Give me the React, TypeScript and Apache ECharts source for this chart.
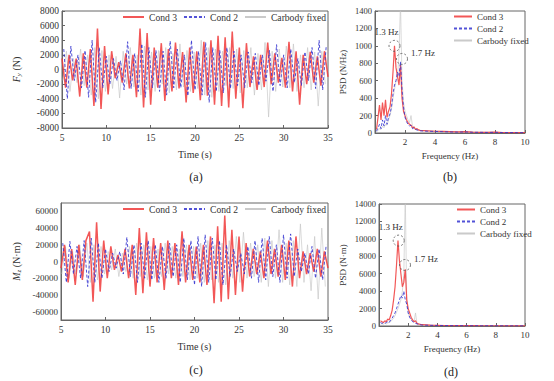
import React, { useEffect, useRef } from 'react';
import * as echarts from 'echarts';

const FONT = '"Liberation Serif", "Times New Roman", serif';
const TXT = '#333';
const RED = '#f03a3a';
const BLUE = '#3434d0';
const GREY = '#c4c4c4';

// ---- Time-series sampling (s) ----
const T_START = 5;
const T_STEP = 0.4;
const OFFSET_COND3 = 0;
const OFFSET_COND2 = 0.2;
const OFFSET_FIXED = 0.1;

// ---- (a) Fy (N) ----
const fyCond3 = [1500, -2500, 2000, -1500, 1500, -3700, 2200, -2500, 2800, -5000, 5600, -5400, 3200, -3400, 2500, -1200, 1000, -1800, 2200, -2600, 2000, -3800, 5600, -5200, 5000, -4800, 3000, -2500, 3600, -4300, 2800, -3000, 3700, -2600, 2400, -4500, 3000, -3200, 2500, -4200, 3800, -3600, 4000, -4800, 4600, -5000, 4400, -5200, 5200, -4000, 3000, -5300, 3600, -2400, 1800, -2800, 2000, -2400, 3700, -2000, 2200, -1800, 1600, -2500, 3800, -3000, 2500, -4800, 2000, -2000, 2400, -1800, 1800, -2200, 2500, -1000];
const fyCond2 = [2800, -4000, 3200, -1500, 2000, -2500, 2600, -3800, 4000, -4500, 3000, -2500, 1800, -2000, 1500, -1500, 1200, -2800, 3800, -2600, 2200, -3000, 3500, -3800, 3000, -2500, 2600, -3000, 2500, -3500, 3900, -2500, 2800, -2500, 2000, -3600, 4000, -2800, 2500, -3500, 3700, -4500, 3000, -3000, 2600, -3200, 3000, -2600, 2500, -2200, 2000, -2500, 2400, -1800, 2200, -2200, 2000, -1600, 2600, -3000, 3400, -2200, 2000, -2500, 2800, -1800, 1500, -2200, 2400, -1500, 3000, -2600, 4000, -2800, 3200];
const fyFixed = [-1500, 2500, -3000, 1500, -1800, 2800, -2200, 2000, -3500, 3000, -4000, 2600, -3000, 2000, -2600, 1800, -3900, 2500, -2000, 3000, -2400, 2000, -3500, 3200, -2800, 2400, -3000, 2600, -2000, 3000, -3200, 2200, -2800, 3500, -2400, 2600, -3000, 2400, -2600, 4000, -3500, 3000, -3800, 2800, -3000, 2500, -2200, 3000, -2600, 2800, -3200, 2600, -2500, 3000, -3500, 2200, -2800, 3700, -6500, 2500, -3000, 2800, -2400, 3200, -2500, 3500, -3000, 2000, -2500, 3000, -2800, 2400, -5000, 2500, -2000];

// ---- (c) Mz (N·m) ----
const mzCond3 = [-8000, 20000, -25000, 15000, -28000, 20000, -22000, 25000, 36000, -48000, 47000, -36000, 25000, -20000, 18000, -10000, 8000, -12000, 15000, -20000, 20000, -40000, 40000, -38000, 35000, -30000, 28000, -25000, 22000, -34000, 25000, -20000, 22000, -28000, 36000, -25000, 20000, -22000, 18000, -25000, 20000, -28000, 30000, -50000, 42000, -48000, 55000, -45000, 38000, -40000, 30000, -36000, 22000, -18000, 15000, -15000, 12000, -20000, 25000, -15000, 15000, -18000, 20000, -22000, 25000, -30000, 30000, -20000, 12000, -15000, 10000, -12000, 15000, -18000, 12000, -8000];
const mzCond2 = [22000, -25000, 24000, -15000, 18000, -20000, 25000, -30000, 28000, -25000, 22000, -20000, 15000, -12000, 10000, -8000, 12000, -15000, 29000, -18000, 20000, -25000, 22000, -20000, 25000, -22000, 20000, -25000, 18000, -20000, 22000, -18000, 20000, -25000, 28000, -22000, 25000, -28000, 30000, -30000, 32000, -25000, 28000, -22000, 25000, -28000, 20000, -18000, 15000, -12000, 10000, -15000, 18000, -20000, 25000, -25000, 28000, -22000, 30000, -18000, 20000, -25000, 32000, -20000, 33000, -18000, 15000, -12000, 10000, -15000, 18000, -20000, 15000, -22000, 20000];
const mzFixed = [-15000, 18000, -20000, 12000, -15000, 20000, -18000, 22000, -25000, 20000, -22000, 18000, -15000, 12000, -10000, 15000, -18000, 10000, -12000, 18000, -20000, 22000, -18000, 20000, -22000, 18000, -20000, 15000, -18000, 22000, -15000, 18000, -20000, 15000, -18000, 20000, -22000, 18000, -20000, 22000, -25000, 25000, -22000, 20000, -25000, 22000, -28000, 25000, -20000, 30000, -25000, 35000, -20000, 22000, -18000, 20000, -25000, 28000, -30000, 25000, -20000, 38000, -25000, 22000, -28000, 25000, -30000, 45000, -25000, 20000, -35000, 30000, -45000, 40000, -30000];

// ---- PSD frequencies (Hz) ----
const freq = [0.1, 0.2, 0.3, 0.4, 0.5, 0.6, 0.7, 0.8, 0.9, 1.0, 1.1, 1.2, 1.3, 1.4, 1.5, 1.6, 1.7, 1.8, 1.9, 2.0, 2.1, 2.2, 2.3, 2.4, 2.5, 2.6, 2.7, 2.8, 2.9, 3.0, 3.5, 4, 4.5, 5, 5.5, 6, 6.5, 7, 7.5, 8, 8.5, 9, 9.5, 10];

// ---- (b) PSD of Fy ----
const psdFyCond3 = [40, 180, 320, 150, 350, 200, 380, 180, 250, 300, 450, 700, 1000, 750, 650, 550, 780, 400, 250, 200, 150, 120, 100, 90, 60, 70, 40, 50, 35, 30, 25, 20, 18, 15, 12, 15, 10, 8, 8, 10, 6, 5, 5, 4];
const psdFyCond2 = [20, 60, 100, 50, 150, 80, 200, 100, 180, 220, 300, 450, 550, 600, 700, 650, 820, 500, 300, 180, 130, 100, 80, 90, 50, 60, 40, 35, 30, 25, 20, 18, 15, 12, 10, 12, 8, 8, 6, 8, 5, 5, 4, 4];
const psdFyFixed = [10, 30, 50, 40, 80, 60, 100, 90, 150, 200, 280, 400, 500, 600, 650, 900, 1500, 600, 350, 250, 200, 150, 120, 200, 80, 60, 50, 40, 35, 30, 25, 20, 18, 15, 12, 12, 10, 8, 8, 8, 6, 5, 5, 4];

// ---- (d) PSD of Mz ----
const psdMzCond3 = [600, 500, 400, 600, 500, 800, 700, 1200, 1800, 3000, 4500, 7000, 9800, 7500, 6000, 4500, 5000, 6500, 3000, 2000, 1500, 1000, 700, 500, 600, 300, 250, 200, 150, 150, 100, 80, 60, 50, 50, 40, 50, 30, 30, 30, 25, 20, 20, 15];
const psdMzCond2 = [400, 300, 350, 300, 400, 500, 400, 700, 900, 1200, 1500, 2000, 2500, 3000, 3500, 3200, 4000, 3000, 2500, 1500, 1000, 700, 500, 400, 300, 250, 200, 150, 120, 100, 80, 60, 50, 40, 40, 30, 30, 25, 25, 20, 20, 15, 15, 10];
const psdMzFixed = [200, 250, 200, 300, 250, 350, 400, 500, 700, 900, 1200, 1600, 2000, 2500, 3000, 4000, 6000, 15000, 3000, 1500, 1000, 800, 600, 500, 1500, 300, 200, 150, 120, 100, 80, 60, 50, 40, 40, 30, 30, 25, 25, 20, 20, 15, 15, 10];

// ---- Peak annotations ----
const peakFy = [
  { name: '1.3 Hz', coord: [1.3, 1000] },
  { name: '1.7 Hz', coord: [1.8, 850] },
];
const peakMz = [
  { name: '1.3 Hz', coord: [1.35, 9800] },
  { name: '1.7 Hz', coord: [1.78, 7000] },
];

const NAMES = ['Cond 3', 'Cond 2', 'Carbody fixed'];

function timePairs(vals: number[], offset: number) {
  return vals.map((v, i) => [T_START + offset + i * T_STEP, v]);
}
function freqPairs(vals: number[]) {
  return vals.map((v, i) => [freq[i], v]);
}

const lineStyles = [
  { color: RED, width: 1.5, type: 'solid' as const, opacity: 0.85 },
  { color: BLUE, width: 1, type: [3, 2], opacity: 0.85 },
  { color: GREY, width: 0.7, type: 'solid' as const, opacity: 0.9 },
];

function mkSeries(idx: number, data: number[][], which: number, mark?: any, psd?: boolean) {
  const ls = { ...lineStyles[which] } as any;
  if (psd && which === 0) ls.width = 1.2;
  const s: any = {
    type: 'line',
    name: NAMES[which],
    xAxisIndex: idx,
    yAxisIndex: idx,
    data,
    symbol: 'none',
    showSymbol: false,
    silent: true,
    z: which === 2 ? 1 : which === 1 ? 3 : 2,
    lineStyle: ls,
    itemStyle: { color: ls.color },
  };
  if (mark) s.markPoint = mark;
  return s;
}

function markFor(peaks: { name: string; coord: number[] }[]) {
  return {
    symbol: 'circle',
    symbolSize: 11,
    silent: true,
    itemStyle: { color: 'rgba(0,0,0,0)', borderColor: '#555', borderWidth: 0.8, borderType: [2, 2] },
    data: peaks.map((p, i) => ({
      name: p.name,
      coord: p.coord,
      label: {
        show: true,
        formatter: p.name,
        position: i === 0 ? 'top' : 'right',
        offset: i === 0 ? [-8, 2] : [-2, -6],
        fontFamily: FONT,
        fontSize: 9,
        color: TXT,
      },
    })),
  };
}

const plain = (v: number) => String(v);
const axisLabelBase = { fontFamily: FONT, color: TXT };
const axisLine = { show: true, onZero: false, lineStyle: { color: '#666', width: 1 } };
const axisTick = { show: true, inside: true, length: 3, lineStyle: { color: '#666' } };

export default function App() {
  const ref = useRef<HTMLDivElement>(null);
  useEffect(() => {
    const chart = echarts.init(ref.current!, null, { renderer: 'svg' });
    const grids = [
      { left: 62, top: 11, width: 266, height: 117 },
      { left: 375, top: 11, width: 150, height: 122 },
      { left: 61, top: 203, width: 267, height: 117 },
      { left: 379, top: 204, width: 146, height: 122 },
    ].map((g) => ({ ...g, show: true, borderColor: '#666', borderWidth: 1, backgroundColor: '#fff' }));

    const xTime = (gi: number, gap: number) => ({
      type: 'value', gridIndex: gi, min: 5, max: 35, interval: 5,
      name: 'Time (s)', nameLocation: 'middle', nameGap: gap,
      nameTextStyle: { fontFamily: FONT, fontSize: 10, color: TXT },
      axisLine, axisTick, splitLine: { show: false },
      axisLabel: { ...axisLabelBase, fontSize: 9.5, margin: 5, formatter: plain },
    });
    const xFreq = (gi: number, gap: number) => ({
      type: 'value', gridIndex: gi, min: 0, max: 10, interval: 2,
      name: 'Frequency (Hz)', nameLocation: 'middle', nameGap: gap,
      nameTextStyle: { fontFamily: FONT, fontSize: 9, color: TXT },
      axisLine, axisTick, splitLine: { show: false },
      axisLabel: { ...axisLabelBase, fontSize: 9, margin: 4, formatter: (v: number) => (v === 0 ? '' : String(v)) },
    });
    const richName = {
      i: { fontFamily: FONT, fontStyle: 'italic', fontSize: 10, color: TXT },
      s: { fontFamily: FONT, fontStyle: 'italic', fontSize: 7, color: TXT, verticalAlign: 'bottom', padding: [4, 0, 0, 0] },
      n: { fontFamily: FONT, fontSize: 10, color: TXT },
    };

    const yAxes = [
      {
        type: 'value', gridIndex: 0, min: -8000, max: 8000, interval: 2000,
        name: '{i|F}{s|y}{n| (N)}', nameLocation: 'middle', nameGap: 40, nameRotate: 90,
        nameTextStyle: { rich: richName },
        axisLine, axisTick, splitLine: { show: false },
        axisLabel: { ...axisLabelBase, fontSize: 9.5, margin: 3, formatter: plain },
      },
      {
        type: 'value', gridIndex: 1, min: 0, max: 1400, interval: 200,
        name: 'PSD (N/Hz)', nameLocation: 'middle', nameGap: 28, nameRotate: 90,
        nameTextStyle: { fontFamily: FONT, fontSize: 9, color: TXT },
        axisLine, axisTick, splitLine: { show: false },
        axisLabel: { ...axisLabelBase, fontSize: 8.5, margin: 3, formatter: plain },
      },
      {
        type: 'value', gridIndex: 2, min: -70000, max: 70000, interval: 10000,
        name: '{i|M}{s|z}{n| (N·m)}', nameLocation: 'middle', nameGap: 39, nameRotate: 90,
        nameTextStyle: { rich: richName },
        axisLine, axisTick: { show: false }, splitLine: { show: false },
        axisLabel: { ...axisLabelBase, fontSize: 9, margin: 3, formatter: (v: number) => (Math.abs(v) % 20000 === 0 ? String(v) : '') },
      },
      {
        type: 'value', gridIndex: 3, min: 0, max: 14000, interval: 2000,
        name: 'PSD (N·m)', nameLocation: 'middle', nameGap: 32, nameRotate: 90,
        nameTextStyle: { fontFamily: FONT, fontSize: 9, color: TXT },
        axisLine, axisTick, splitLine: { show: false },
        axisLabel: { ...axisLabelBase, fontSize: 8.5, margin: 3, formatter: plain },
      },
    ];

    const legendText = { fontFamily: FONT, color: TXT };
    const legends = [
      { left: 122, top: 12, itemWidth: 21, itemHeight: 8, itemGap: 6, textStyle: { ...legendText, fontSize: 9.6 }, data: NAMES, orient: 'horizontal' },
      { left: 453, top: 12, itemWidth: 18, itemHeight: 6, itemGap: 3, textStyle: { ...legendText, fontSize: 9 }, data: NAMES, orient: 'vertical' },
      { left: 122, top: 204, itemWidth: 21, itemHeight: 8, itemGap: 6, textStyle: { ...legendText, fontSize: 9.6 }, data: NAMES, orient: 'horizontal' },
      { left: 456, top: 205, itemWidth: 18, itemHeight: 6, itemGap: 3, textStyle: { ...legendText, fontSize: 9 }, data: NAMES, orient: 'vertical' },
    ].map((l) => ({ ...l, selectedMode: false, padding: 0, itemStyle: { opacity: 0 } }));

    const series = [
      mkSeries(0, timePairs(fyFixed, OFFSET_FIXED), 2),
      mkSeries(0, timePairs(fyCond3, OFFSET_COND3), 0),
      mkSeries(0, timePairs(fyCond2, OFFSET_COND2), 1),
      mkSeries(1, freqPairs(psdFyFixed), 2, undefined, true),
      mkSeries(1, freqPairs(psdFyCond3), 0, markFor(peakFy), true),
      mkSeries(1, freqPairs(psdFyCond2), 1, undefined, true),
      mkSeries(2, timePairs(mzFixed, OFFSET_FIXED), 2),
      mkSeries(2, timePairs(mzCond3, OFFSET_COND3), 0),
      mkSeries(2, timePairs(mzCond2, OFFSET_COND2), 1),
      mkSeries(3, freqPairs(psdMzFixed), 2, undefined, true),
      mkSeries(3, freqPairs(psdMzCond3), 0, markFor(peakMz), true),
      mkSeries(3, freqPairs(psdMzCond2), 1, undefined, true),
    ];

    const panelLabel = (text: string, x: number, y: number) => ({
      type: 'text', x, y,
      style: { text, fontFamily: FONT, fontSize: 12, fill: '#222', textAlign: 'center', textVerticalAlign: 'middle' },
    });

    chart.setOption({
      animation: false,
      backgroundColor: '#fff',
      grid: grids,
      xAxis: [xTime(0, 21), xFreq(1, 18), xTime(2, 21), xFreq(3, 18)],
      yAxis: yAxes,
      legend: legends,
      series,
      graphic: [
        panelLabel('(a)', 196, 177),
        panelLabel('(b)', 450, 177),
        panelLabel('(c)', 196, 370),
        panelLabel('(d)', 451, 372),
      ],
    });
    return () => chart.dispose();
  }, []);
  return (
    <div
      ref={ref}
      style={{ position: 'fixed', left: 0, top: 0, width: 554, height: 381, background: '#fff' }}
    />
  );
}
